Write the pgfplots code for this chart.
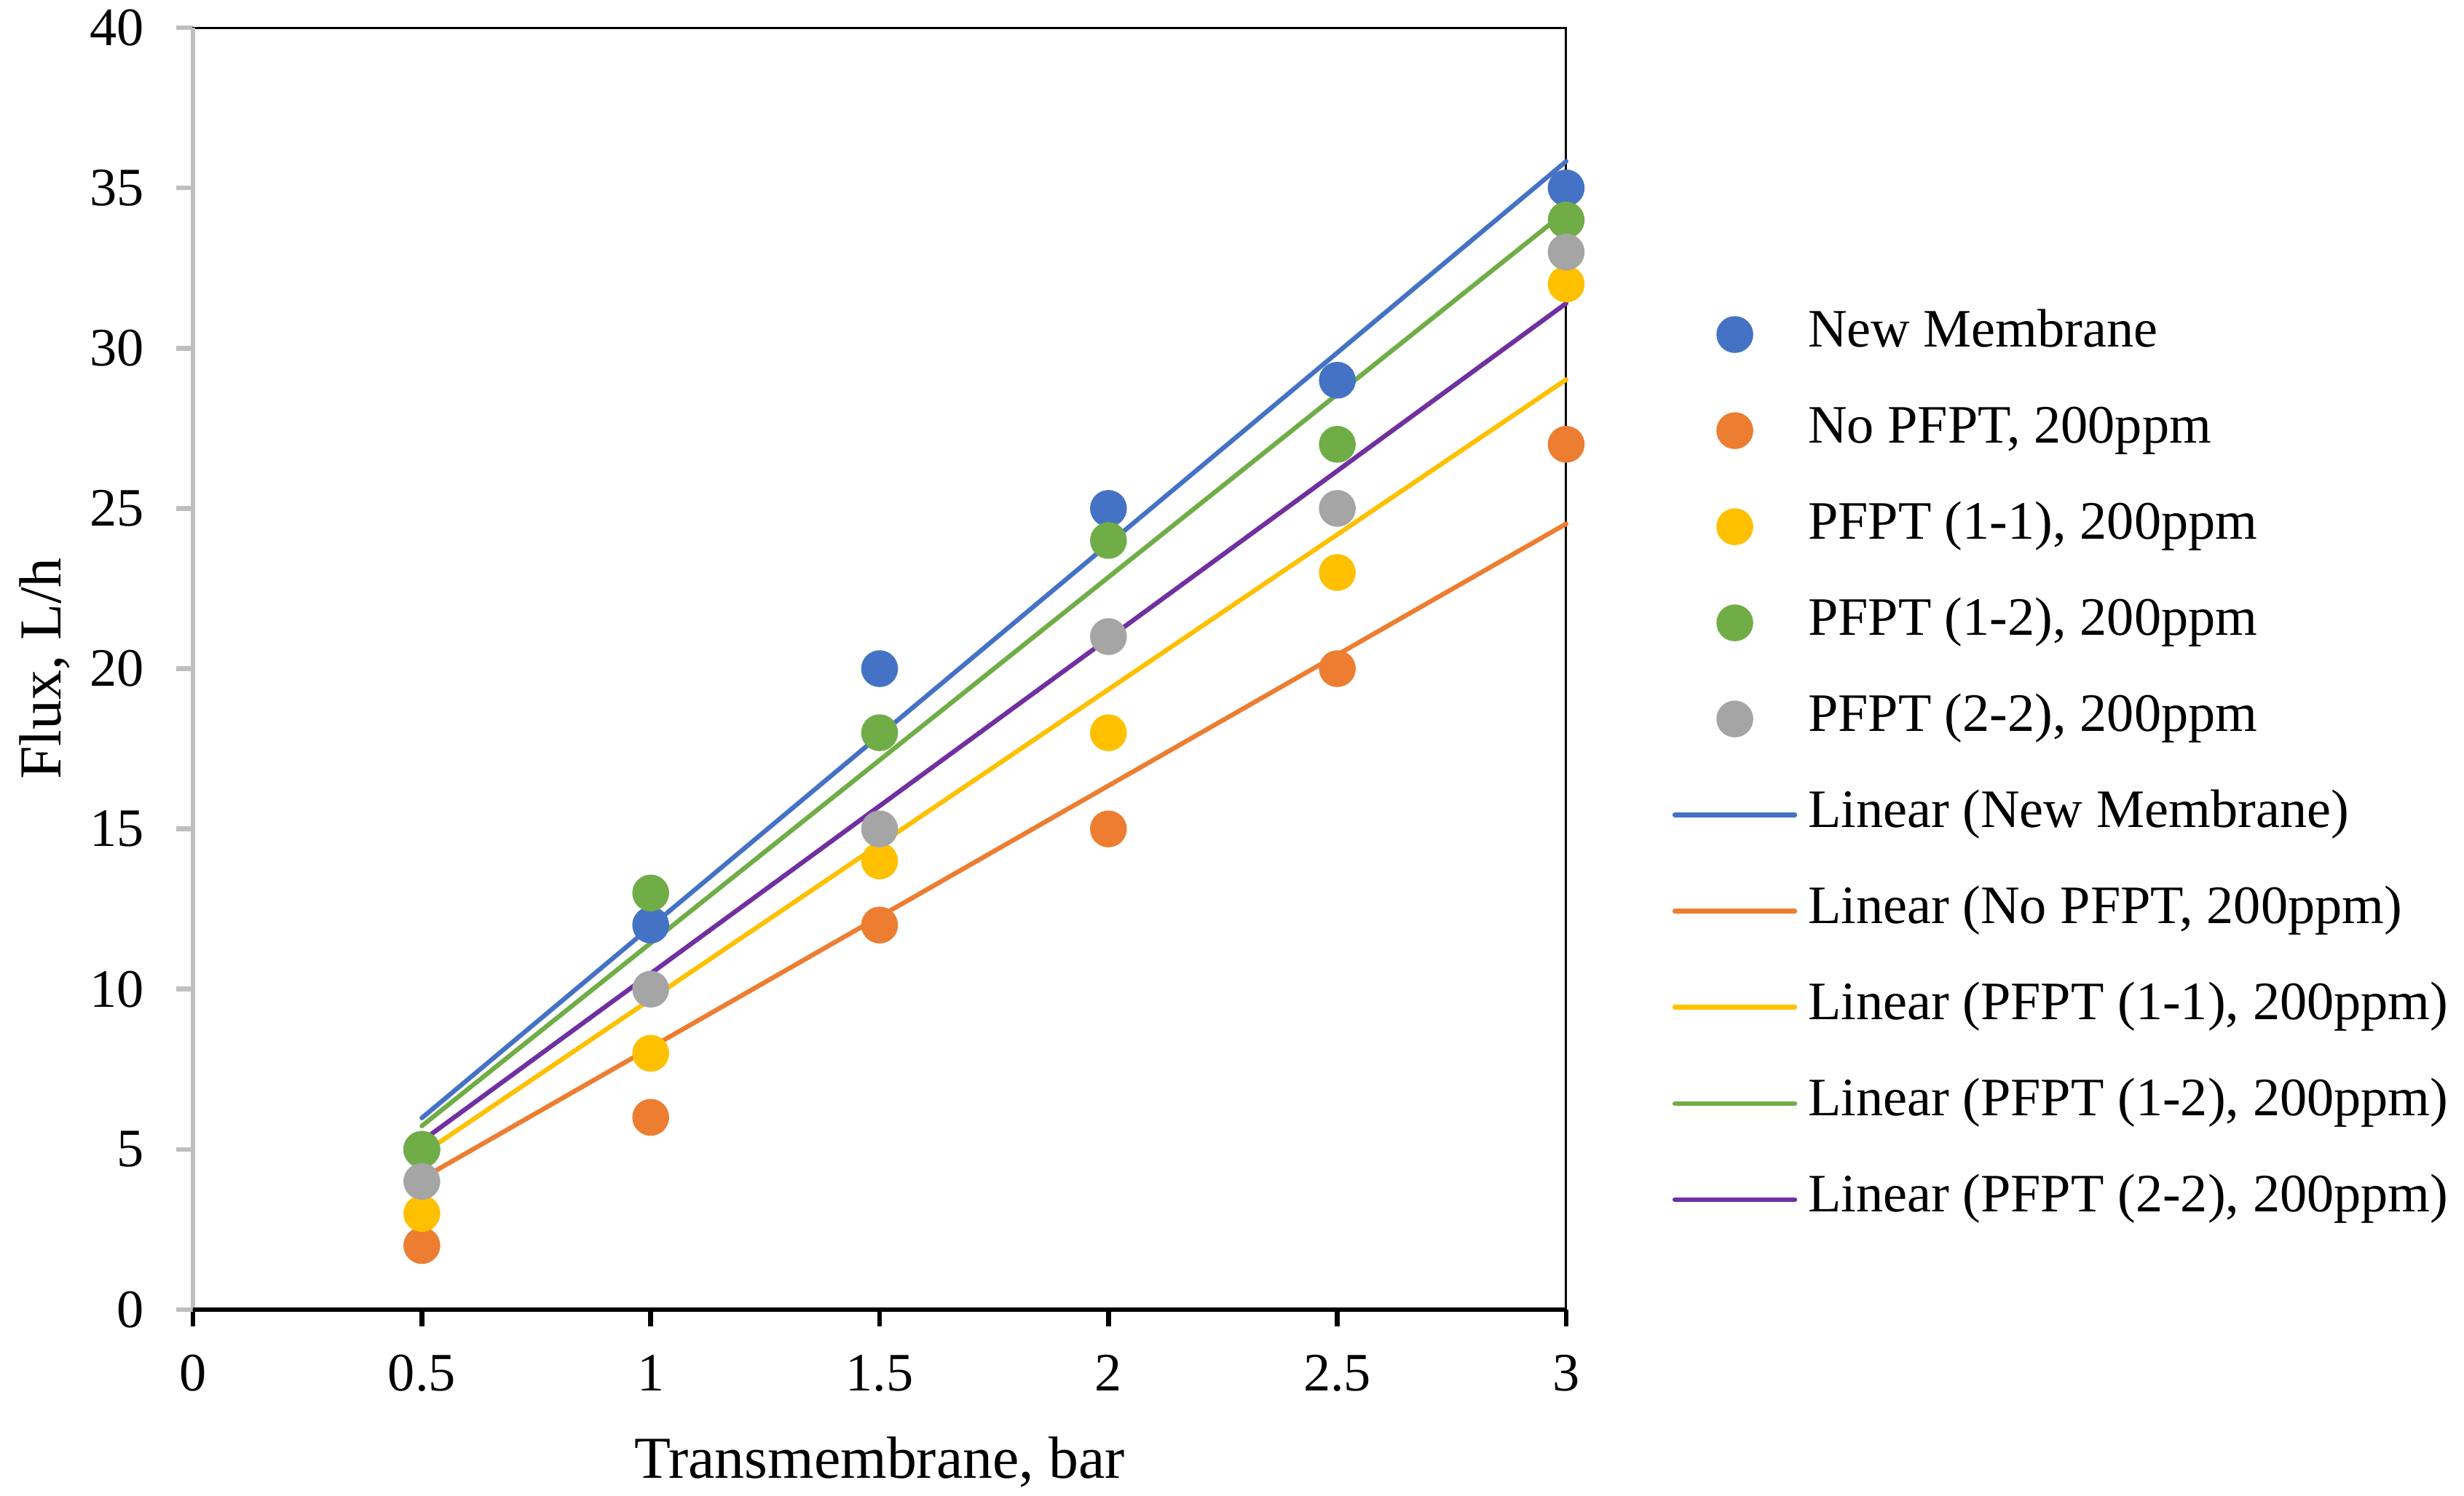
\documentclass[border=0pt]{standalone}
\usepackage{fontspec}
\setmainfont{Liberation Serif}
\usepackage{pgfplots}
\pgfplotsset{compat=1.18}
\definecolor{cBlue}{HTML}{4472C4}
\definecolor{cOrange}{HTML}{ED7D31}
\definecolor{cYellow}{HTML}{FFC000}
\definecolor{cGreen}{HTML}{70AD47}
\definecolor{cGray}{HTML}{A5A5A5}
\definecolor{cPurple}{HTML}{7030A0}
\definecolor{axGray}{HTML}{BFBFBF}
\pgfplotsset{
  mk/.style={only marks, mark=*, mark size=3.2pt, color=#1, mark options={draw=none, fill=#1},
    legend image code/.code={\draw[##1] plot coordinates {(0.39cm,0cm)};}},
  ln/.style={no marks, color=#1, line width=0.85pt, line cap=round,
    legend image code/.code={\draw[##1] (0cm,0cm) -- (0.78cm,0cm);}},
}
\begin{document}
\begin{tikzpicture}
\useasboundingbox (0,0) rectangle (16cm,9.716cm);
\begin{axis}[
  at={(1.253cm,1.210cm)}, anchor=south west,
  scale only axis, width=8.917cm, height=8.326cm,
  xmin=0, xmax=3, ymin=0, ymax=40,
  xtick={0,0.5,1,1.5,2,2.5,3},
  ytick={0,5,10,15,20,25,30,35,40},
  xtick pos=bottom, ytick pos=left,
  tick align=outside, major tick length=0.109cm,
  xtick style={black, line width=0.9pt},
  ytick style={axGray, line width=0.9pt},
  axis line style={black, line width=0.4pt},
  /pgf/number format/assume math mode=true,
  tick label style={font=\fontsize{10}{12}\selectfont},
  xticklabel style={anchor=north, inner sep=0pt, yshift=-0.179cm},
  yticklabel style={anchor=east, inner sep=0pt, xshift=-0.203cm},
  xlabel={Transmembrane, bar},
  ylabel={Flux, L/h},
  every axis x label/.style={at={(axis description cs:0.5,-0.1312)}, anchor=base, font=\fontsize{11}{13}\selectfont},
  every axis y label/.style={at={(axis description cs:-0.0965,0.5)}, anchor=base, rotate=90, font=\fontsize{11}{13}\selectfont},
  clip=false,
  legend cell align=left,
  legend style={at={(rel axis cs:1.0774,0.7807)}, anchor=north west, draw=none, fill=none,
    inner sep=0pt, outer sep=0pt, row sep=8.26pt,
    font=\fontsize{10}{12}\selectfont,
    nodes={inner sep=0pt, text height=7pt, text depth=2.5pt},
    /tikz/every odd column/.append style={column sep=0.07cm}},
]
\addplot[mk=cBlue] coordinates {(0.5,5) (1,12) (1.5,20) (2,25) (2.5,29) (3,35)};
\addlegendentry{New Membrane}
\addplot[mk=cOrange] coordinates {(0.5,2) (1,6) (1.5,12) (2,15) (2.5,20) (3,27)};
\addlegendentry{No PFPT, 200ppm}
\addplot[mk=cYellow] coordinates {(0.5,3) (1,8) (1.5,14) (2,18) (2.5,23) (3,32)};
\addlegendentry{PFPT (1-1), 200ppm}
\addplot[mk=cGreen] coordinates {(0.5,5) (1,13) (1.5,18) (2,24) (2.5,27) (3,34)};
\addlegendentry{PFPT (1-2), 200ppm}
\addplot[mk=cGray] coordinates {(0.5,4) (1,10) (1.5,15) (2,21) (2.5,25) (3,33)};
\addlegendentry{PFPT (2-2), 200ppm}
\addplot[ln=cBlue] coordinates {(0.5,5.98) (3,35.83)};
\addlegendentry{Linear (New Membrane)}
\addplot[ln=cOrange] coordinates {(0.5,4.09) (3,24.52)};
\addlegendentry{Linear (No PFPT, 200ppm)}
\addplot[ln=cYellow] coordinates {(0.5,4.85) (3,29.02)};
\addlegendentry{Linear (PFPT (1-1), 200ppm)}
\addplot[ln=cGreen] coordinates {(0.5,5.73) (3,34.27)};
\addlegendentry{Linear (PFPT (1-2), 200ppm)}
\addplot[ln=cPurple] coordinates {(0.5,5.26) (3,31.40)};
\addlegendentry{Linear (PFPT (2-2), 200ppm)}
\draw[axGray, line width=0.9pt] (rel axis cs:0,0) -- (rel axis cs:0,1);
\draw[black, line width=0.9pt] (rel axis cs:0,0) -- (rel axis cs:1,0);
\end{axis}
\end{tikzpicture}
\end{document}
